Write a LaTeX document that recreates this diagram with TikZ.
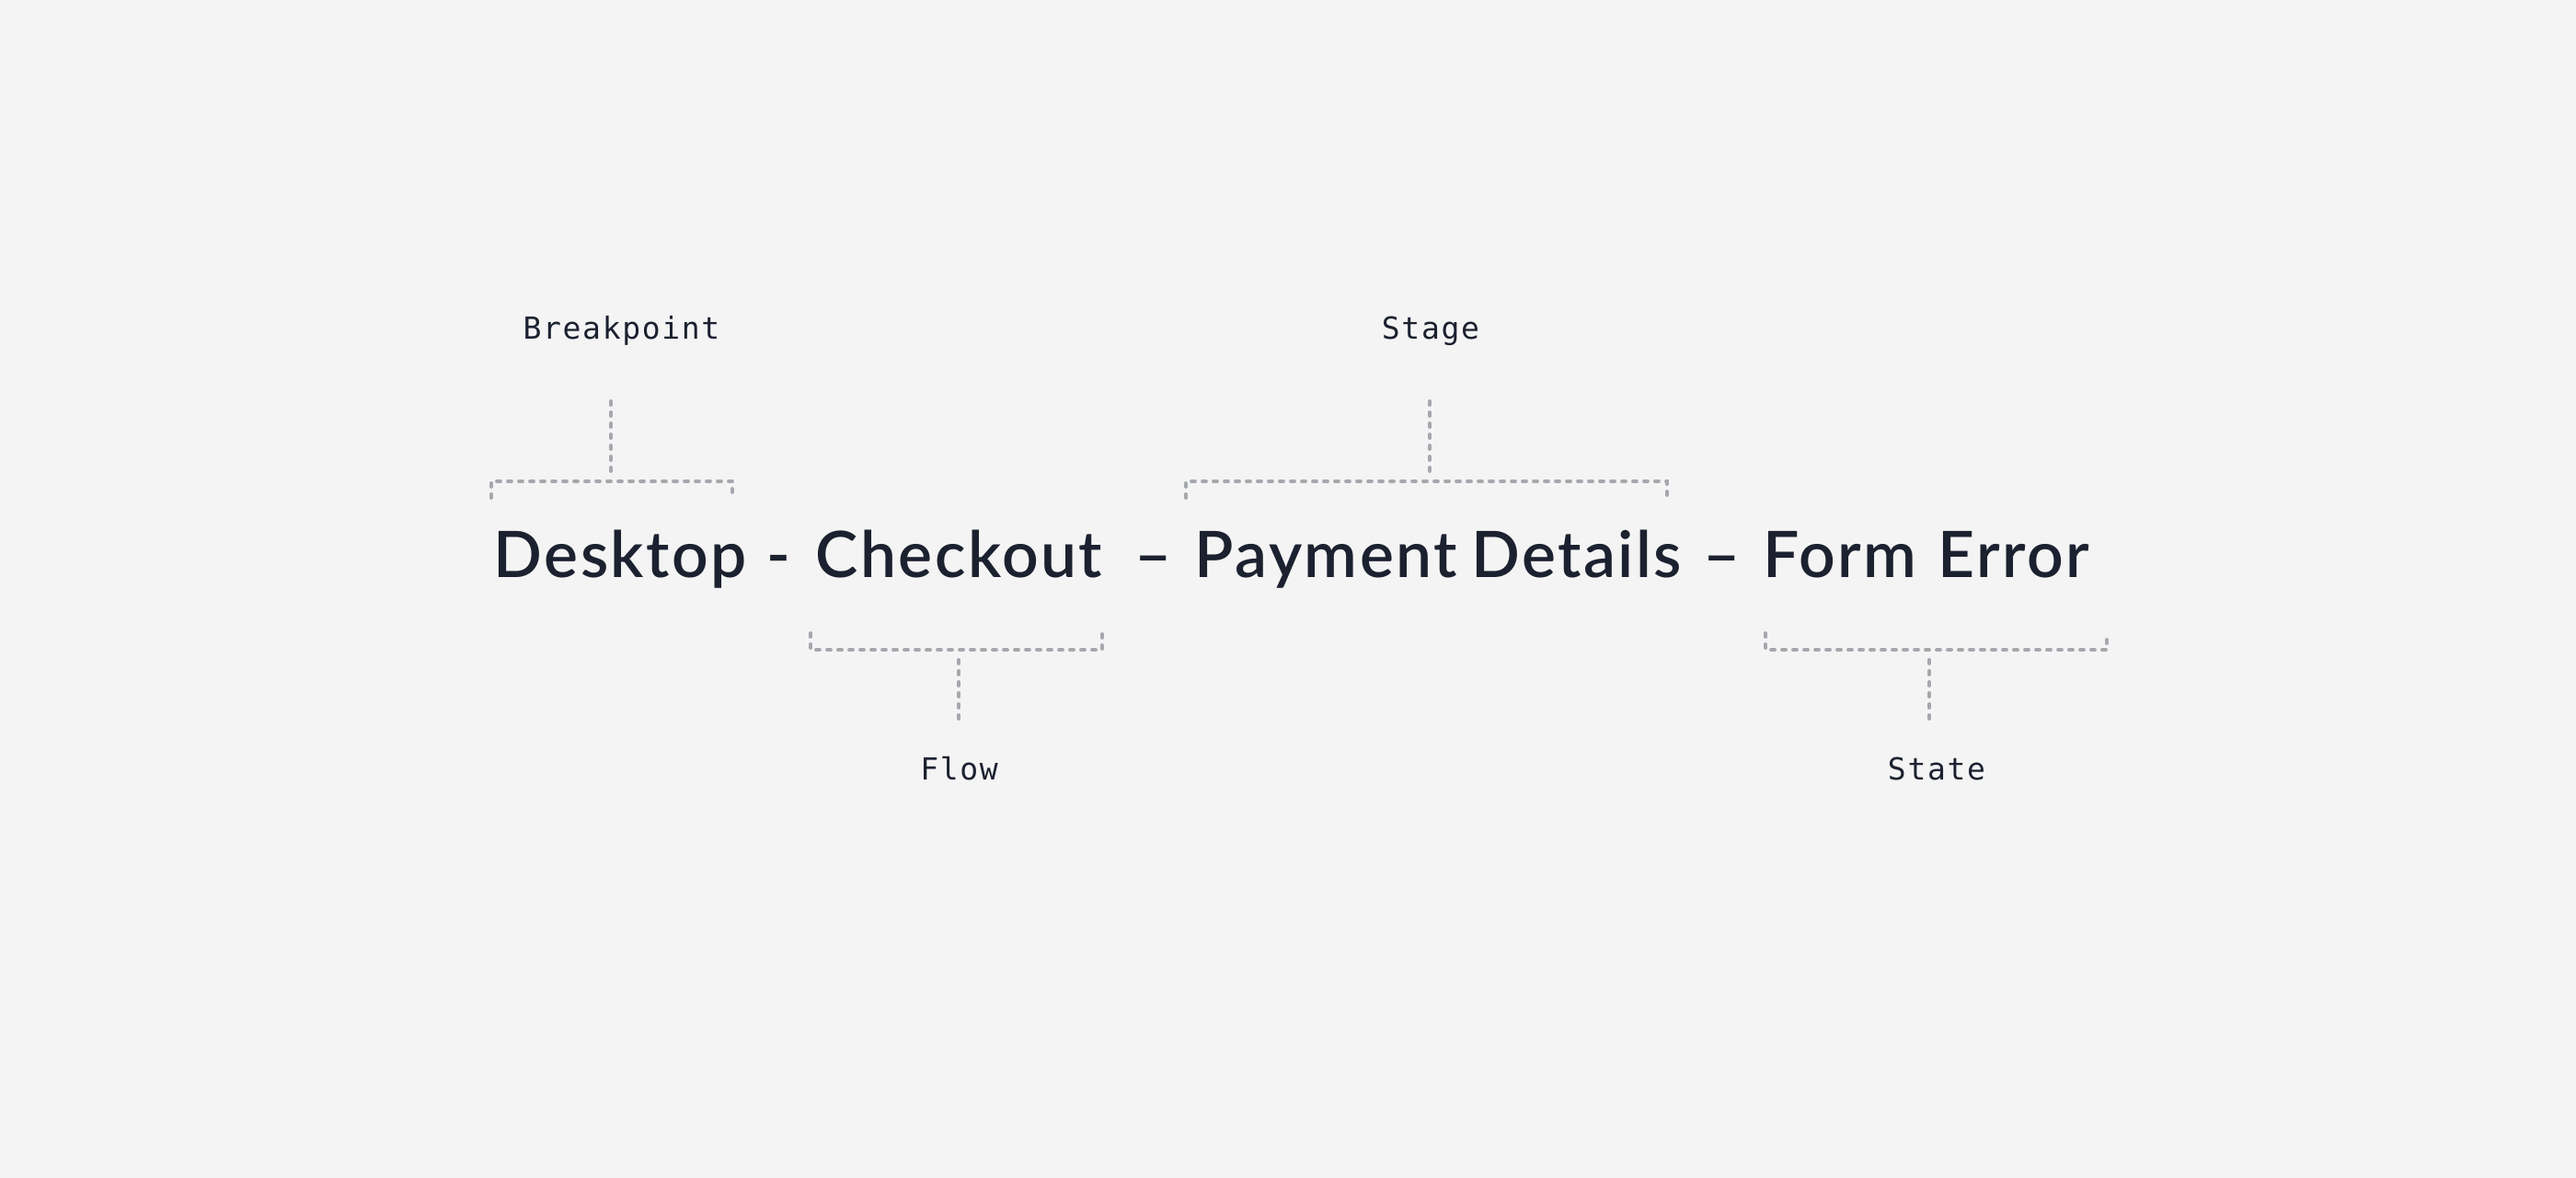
\documentclass[tikz,border=0pt]{standalone}
\usepackage{fontspec}
\setmainfont{Lato}[BoldFont={Lato Semibold}]
\newfontfamily\monofont{DejaVu Sans Mono}[LetterSpace=5]
\definecolor{ink}{HTML}{1C2130}
\definecolor{paper}{HTML}{F4F4F4}
\definecolor{rulegray}{HTML}{A5A8AE}
\begin{document}
\begin{tikzpicture}
            \tikzset{
                title/.style={anchor=base west, inner sep=0pt, text=ink, font=\fontsize{19.8}{24}\selectfont\bfseries\addfontfeature{LetterSpace=3.5}},
                tag/.style={anchor=base, inner sep=0pt, text=ink, font=\monofont\fontsize{9.4}{11}\selectfont},
                dashline/.style={draw=rulegray, line width=1.1pt, line cap=round, dash pattern=on 0.04cm off 0.08cm},}
            \fill [paper] (0,0) rectangle (28,12.8);
            % file name, split in parts
            \node [title] (desk) at (5.36,6.52) {Desktop};
            \node [title] (hy) at (8.33,6.52) {-};
            \node [title] (check) at (8.86,6.52) {Checkout};
            \node [title] (da1) at (12.33,6.52) {–};
            \node [title] (pay) at (12.98,6.52) {Payment\hspace{-0.06em} Details};
            \node [title] (da2) at (18.51,6.52) {–};
            \node [title] (form) at (19.16,6.52) {Form\hspace{0.05em} Error};
            % labels
            \node [tag] (bp) at (6.755,9.11) {Breakpoint};
            \node [tag] (stage) at (15.55,9.11) {Stage};
            \node [tag] (flow) at (10.425,4.32) {Flow};
            \node [tag] (state) at (21.05,4.32) {State};
            % brackets above
            \draw [dashline] (5.34,7.39) -- (5.34,7.57) -- (7.96,7.57) -- (7.96,7.39);
            \draw [dashline] (12.89,7.39) -- (12.89,7.57) -- (18.12,7.57) -- (18.12,7.39);
            % brackets below
            \draw [dashline] (8.81,5.92) -- (8.81,5.74) -- (11.98,5.74) -- (11.98,5.92);
            \draw [dashline] (19.19,5.92) -- (19.19,5.74) -- (22.90,5.74) -- (22.90,5.92);
            % leaders
            \coordinate (bp-top) at (6.64,8.44);  \coordinate (bp-foot) at (6.64,7.62);
            \coordinate (st-top) at (15.54,8.44); \coordinate (st-foot) at (15.54,7.62);
            \coordinate (fl-top) at (10.42,5.63); \coordinate (fl-foot) at (10.42,4.99);
            \coordinate (sa-top) at (20.97,5.63); \coordinate (sa-foot) at (20.97,4.99);
            \draw [dashline] (bp-top) -- (bp-foot);
            \draw [dashline] (st-top) -- (st-foot);
            \draw [dashline] (fl-top) -- (fl-foot);
            \draw [dashline] (sa-top) -- (sa-foot);
        \end{tikzpicture}
\end{document}
